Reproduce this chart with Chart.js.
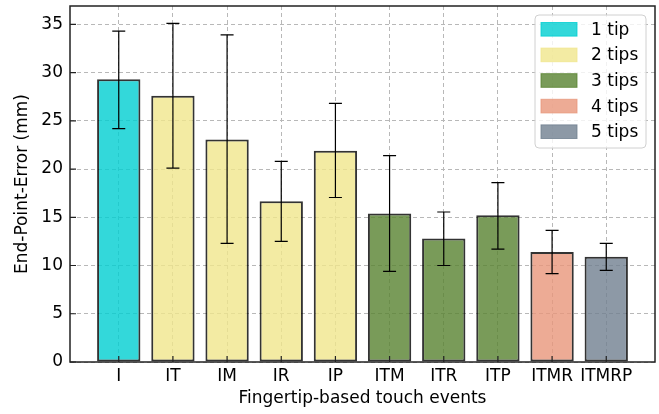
<!DOCTYPE html>
<html>
<head>
<meta charset="utf-8">
<script src="https://cdn.jsdelivr.net/npm/chart.js@4"></script>
<style>
  body { margin: 0; background: #fff; }
  canvas { display: block; }
</style>
</head>
<body>
<canvas id="epe-chart" width="659" height="414"></canvas>
<script>
const categories = ['I', 'IT', 'IM', 'IR', 'IP', 'ITM', 'ITR', 'ITP', 'ITMR', 'ITMRP'];
const meanError = [29.3, 27.6, 23.05, 16.65, 21.9, 15.4, 12.8, 15.2, 11.4, 10.9];
const errLower = [24.2, 20.1, 12.3, 12.5, 17.05, 9.4, 10.0, 11.7, 9.15, 9.5];
const errUpper = [34.3, 35.1, 33.9, 20.8, 26.8, 21.4, 15.55, 18.6, 13.65, 12.3];
const tipGroup = [0, 1, 1, 1, 1, 2, 2, 2, 3, 4];
const groupLabels = ['1 tip', '2 tips', '3 tips', '4 tips', '5 tips'];
const groupColors = [
    'rgba(0, 206, 209, 0.8)',
    'rgba(240, 230, 140, 0.8)',
    'rgba(88, 130, 48, 0.8)',
    'rgba(233, 150, 122, 0.8)',
    'rgba(112, 128, 144, 0.8)',
];

Chart.defaults.font.family = 'DejaVu Sans';
Chart.defaults.font.size = 17;
Chart.defaults.color = '#000';

// error bars, drawn through the scales
const errorBars = {
    id: 'errorBars',
    afterDatasetsDraw(chart) {
        const ctx = chart.ctx;
        const xs = chart.scales.x, ys = chart.scales.y;
        ctx.save();
        ctx.strokeStyle = '#000';
        ctx.lineWidth = 1.2;
        categories.forEach((c, i) => {
            const x = xs.getPixelForValue(i);
            const lo = ys.getPixelForValue(errLower[i]);
            const hi = ys.getPixelForValue(errUpper[i]);
            ctx.beginPath();
            ctx.moveTo(x, lo); ctx.lineTo(x, hi);
            ctx.moveTo(x - 6.5, lo); ctx.lineTo(x + 6.5, lo);
            ctx.moveTo(x - 6.5, hi); ctx.lineTo(x + 6.5, hi);
            ctx.stroke();
        });
        ctx.restore();
    }
};

// frame, inward ticks and legend box
const frame = {
    id: 'frame',
    afterDraw(chart) {
        const ctx = chart.ctx;
        const a = chart.chartArea;
        const xs = chart.scales.x, ys = chart.scales.y;
        ctx.save();
        ctx.strokeStyle = '#222';
        ctx.lineWidth = 1.2;
        ctx.beginPath();
        xs.ticks.forEach(t => {
            const x = xs.getPixelForValue(t.value);
            ctx.moveTo(x, a.bottom); ctx.lineTo(x, a.bottom - 6);
        });
        ys.ticks.forEach(t => {
            const y = ys.getPixelForValue(t.value);
            ctx.moveTo(a.left, y); ctx.lineTo(a.left + 6, y);
        });
        ctx.stroke();
        ctx.lineWidth = 1.5;
        ctx.strokeRect(a.left, a.top, a.right - a.left, a.bottom - a.top);

        // legend
        const lx = 535, ly = 15, lw = 111, lh = 133;
        ctx.beginPath();
        ctx.roundRect(lx, ly, lw, lh, 4);
        ctx.fillStyle = 'rgba(255,255,255,0.8)';
        ctx.fill();
        ctx.strokeStyle = '#d0d0d0';
        ctx.lineWidth = 1;
        ctx.stroke();
        ctx.font = '17px "DejaVu Sans"';
        ctx.textBaseline = 'middle';
        groupLabels.forEach((lab, i) => {
            const cy = 29.3 + i * 25.6;
            ctx.fillStyle = groupColors[i];
            ctx.fillRect(541, cy - 6.8, 36, 13.6);
            ctx.strokeStyle = groupColors[i];
            ctx.strokeRect(541, cy - 6.8, 36, 13.6);
            ctx.fillStyle = '#000';
            ctx.fillText(lab, 591, cy + 1);
        });
        ctx.restore();
    }
};

new Chart(document.getElementById('epe-chart'), {
    type: 'bar',
    data: {
        datasets: [{
            data: meanError.map((v, i) => ({ x: i, y: v })),
            backgroundColor: tipGroup.map(g => groupColors[g]),
            borderColor: 'rgba(0,0,0,0.8)',
            borderWidth: 2,
            borderSkipped: false,
            categoryPercentage: 1,
            barPercentage: 0.8,
        }]
    },
    options: {
        responsive: false,
        animation: false,
        layout: { padding: { top: 6, right: 4, left: 0, bottom: 0 } },
        plugins: { legend: { display: false }, tooltip: { enabled: false } },
        scales: {
            x: {
                type: 'linear',
                min: -0.9,
                max: 9.9,
                offset: false,
                afterFit: s => { s.height = 52; s.paddingLeft = 0; s.paddingRight = 0; },
                ticks: {
                    stepSize: 1,
                    includeBounds: false,
                    autoSkip: false,
                    maxRotation: 0,
                    padding: 4,
                    callback: v => categories[v] ?? '',
                },
                grid: { color: '#b8b8b8', lineWidth: 1, drawTicks: false, offset: false },
                border: { display: false, dash: [4, 3] },
                title: {
                    display: true,
                    text: 'Fingertip-based touch events',
                    padding: { top: 0, bottom: 5 },
                },
            },
            y: {
                min: 0,
                max: 36.9,
                afterFit: s => { s.width = 70; s.paddingTop = 0; s.paddingBottom = 0; },
                ticks: { stepSize: 5, includeBounds: false, padding: 7 },
                grid: { color: '#b8b8b8', lineWidth: 1, drawTicks: false },
                border: { display: false, dash: [4, 3] },
                title: {
                    display: true,
                    text: 'End-Point-Error (mm)',
                    padding: { top: 12, bottom: 0 },
                },
            },
        },
    },
    plugins: [errorBars, frame],
});
</script>
</body>
</html>
